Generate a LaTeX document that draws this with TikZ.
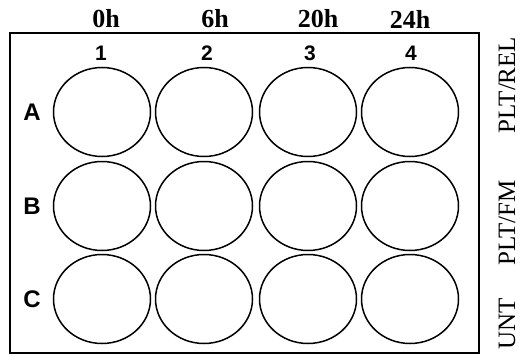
\documentclass[tikz,border=0pt]{standalone}
\usepackage{fontspec}
\setmainfont{Liberation Serif}
\newfontfamily\arialfont{Liberation Sans}
\usetikzlibrary{shapes.geometric}
\begin{document}
\begin{tikzpicture}[x=1pt,y=-1pt,
  well/.style={draw=black,line width=1.5pt,ellipse,minimum width=97pt,minimum height=89pt,inner sep=0pt},
  colhead/.style={font=\bfseries\fontsize{26}{28}\selectfont,inner sep=0pt},
  colnum/.style={font=\arialfont\bfseries\fontsize{21}{23}\selectfont,inner sep=0pt},
  rowlab/.style={font=\arialfont\bfseries\fontsize{24}{26}\selectfont,inner sep=0pt},
  sidelab/.style={font=\fontsize{25}{27}\selectfont,rotate=90,inner sep=0pt}]
\useasboundingbox (0,0) rectangle (520,356);
\node[draw=black,line width=2pt,minimum width=469pt,minimum height=320pt,inner sep=0pt] (plate) at (244.5,193) {};
\foreach \c/\x/\t in {1/106/0h,2/215/6h,3/318/20h,4/410/24h}{
  \node[colhead] (h\c) at (\x,19) {\t};
}
\foreach \c/\x in {1/101,2/207,3/310,4/411}{
  \node[colnum] (n\c) at (\x,53) {\c};
}
\foreach \r/\y in {A/112,B/206,C/299}{
  \node[rowlab] (l\r) at (32,\y) {\r};
  \foreach \c/\x in {1/102,2/204,3/308,4/410}{
    \node[well] (w\r\c) at (\x,\y) {};
  }
}
\node[sidelab] (sA) at (507,85) {PLT/REL};
\node[sidelab] (sB) at (507,223) {PLT/FM};
\node[sidelab] (sC) at (507,324) {UNT};
\end{tikzpicture}
\end{document}
